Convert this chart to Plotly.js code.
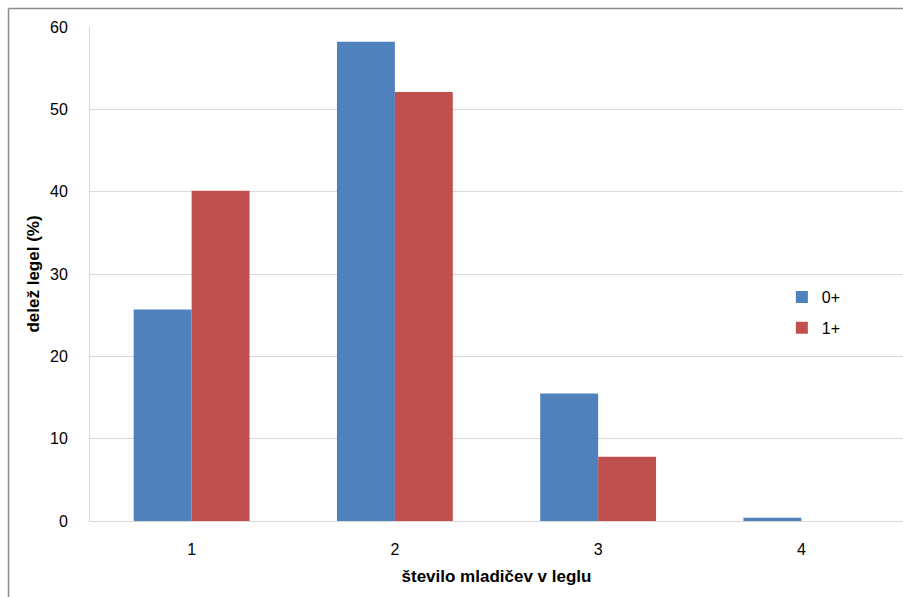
<!DOCTYPE html>
<html><head><meta charset="utf-8">
<script src="https://cdn.plot.ly/plotly-3.0.1.min.js"></script>
<style>body{margin:0;background:#fff}#c{width:903px;height:597px}</style>
</head><body><div id="c"></div>
<script>
const categories = ['1', '2', '3', '4'];
const seriesNames = ['0+', '1+'];
const values0 = [25.7, 58.2, 15.5, 0.4];
const values1 = [40.1, 52.1, 7.8, 0];
const yTicks = [0, 10, 20, 30, 40, 50, 60];

const font = 'Liberation Sans, Arial, sans-serif';
const traces = [
  {type:'bar', x:categories, y:values0, name:seriesNames[0], legendgroup:'a', marker:{color:'#4f81bd'}},
  {type:'bar', x:categories, y:values1, name:seriesNames[1], legendgroup:'b', marker:{color:'#c0504d'}}
];
const layout = {
  width:903, height:597,
  margin:{l:90, r:0, t:27, b:76},
  paper_bgcolor:'#fff', plot_bgcolor:'#fff',
  barmode:'group', bargap:0.43, bargroupgap:0,
  font:{family:font, size:16, color:'#000'},
  xaxis:{type:'category', showgrid:false, showline:true, linecolor:'#d9d9d9', linewidth:1,
    ticks:'', tickfont:{size:16}, ticklabelstandoff:14,
    title:{text:'število mladičev v leglu', font:{size:17, family:font, weight:'bold'}, standoff:12}},
  yaxis:{range:[0,60], tickvals:yTicks, showgrid:true, gridcolor:'#d9d9d9', gridwidth:1,
    showline:true, linecolor:'#d9d9d9', zeroline:false, ticks:'', tickfont:{size:16}, ticklabelstandoff:18,
    title:{text:'delež legel (%)', font:{size:17, family:font, weight:'bold'}, standoff:6}},
  legend:{x:0.851, y:0.422, xanchor:'left', yanchor:'middle', font:{size:16}, tracegroupgap:7,
    traceorder:'grouped', itemwidth:30, bgcolor:'rgba(0,0,0,0)'},
  showlegend:true,
  shapes:[
    {type:'line', xref:'paper', yref:'paper', x0:(8.5-90)/813, x1:(8.5-90)/813, y0:(521-8.5)/494, y1:-0.2,
      line:{color:'#8c8c8c', width:1.5}},
    {type:'line', xref:'paper', yref:'paper', x0:(8.5-90)/813, x1:1.05, y0:(521-8.5)/494, y1:(521-8.5)/494,
      line:{color:'#8c8c8c', width:1.5}}
  ]
};
Plotly.newPlot('c', traces, layout, {displayModeBar:false, staticPlot:true});
</script></body></html>
